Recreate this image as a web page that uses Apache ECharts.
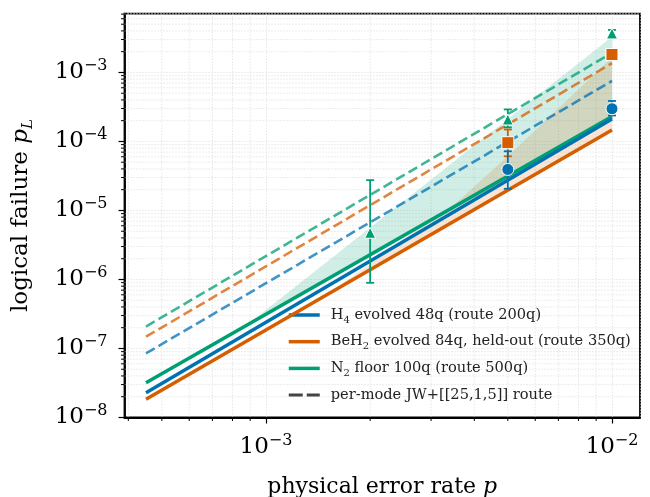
<!DOCTYPE html>
<html>
<head>
<meta charset="utf-8">
<script src="https://cdn.jsdelivr.net/npm/echarts@6/dist/echarts.min.js"></script>
<style>
  html, body { margin: 0; background: #fff; }
  #chart { width: 650px; height: 497px; }
</style>
</head>
<body>
<div id="chart"></div>
<script>
// model curves, straight lines in log-log (p -> p_L)
const pModel = [4.5e-4, 1e-2]
const h4Floor = [2.29e-8, 2.12e-4]
const beh2Floor = [1.84e-8, 1.47e-4]
const n2Floor = [3.19e-8, 2.29e-4]
const h4Route = [8.5e-8, 7.54e-4]
const beh2Route = [1.48e-7, 1.36e-3]
const n2Route = [2.08e-7, 1.92e-3]

// sampled points with error bars
const h4P = [5e-3, 1e-2]
const h4Val = [3.93e-5, 2.98e-4]
const h4Lo = [2.06e-5, 2.38e-4]
const h4Hi = [7.2e-5, 3.86e-4]
const beh2P = [5e-3, 1e-2]
const beh2Val = [9.6e-5, 1.82e-3]
const beh2Lo = [6.1e-5, 1.68e-3]
const beh2Hi = [1.49e-4, 1.98e-3]
const n2P = [2e-3, 5e-3, 1e-2]
const n2Val = [4.75e-6, 2.08e-4, 3.67e-3]
const n2Lo = [8.95e-7, 1.6e-4, 3.27e-3]
const n2Hi = [2.75e-5, 2.91e-4, 4.13e-3]

// shaded bands
const n2BandP = [8.6e-4, 1e-2]
const n2BandLo = [2.0e-7, 2.29e-4]
const n2BandHi = [2.0e-7, 3.3e-3]
const beh2BandP = [1.5e-3, 2.5e-3, 3.5e-3, 5e-3, 1e-2]
const beh2BandLo = [6.0e-7, 2.62e-6, 6.95e-6, 1.96e-5, 1.47e-4]
const beh2BandHi = [6.0e-7, 3.8e-6, 1.22e-5, 6.1e-5, 1.65e-3]

const xMin = 3.9e-4, xMax = 1.205e-2
const yMin = 1e-8, yMax = 7.1e-3

const BLUE = '#0072B2', ORANGE = '#D55E00', GREEN = '#009E73'
const FONT = 'DejaVu Serif'

// minor tick positions (2..9 x 10^n)
const xMinor = [], yMinor = []
for (let e = -4; e <= -2; e++) for (let m = 2; m <= 9; m++) {
  const v = m * Math.pow(10, e)
  if (v > xMin && v < xMax) xMinor.push(v)
}
for (let e = -8; e <= -3; e++) for (let m = 2; m <= 9; m++) {
  const v = m * Math.pow(10, e)
  if (v > yMin && v < yMax) yMinor.push(v)
}

const pairs = (xs, ys) => xs.map((x, i) => [x, ys[i]])

const powLabel = v => {
  const e = Math.round(Math.log10(v))
  return '{b|10}{s|\u2212' + (-e) + '}'
}
const tickRich = {
  b: { fontFamily: FONT, fontSize: 23, color: '#000', lineHeight: 30 },
  s: { fontFamily: FONT, fontSize: 16, color: '#000', lineHeight: 14, verticalAlign: 'top' }
}

const gridLine = { stroke: '#d2d2d2', lineWidth: 0.8, lineDash: [1, 2] }

const minorSeries = {
  type: 'custom', silent: true, clip: false, z: 1,
  data: [[1e-3, 1e-5]],
  renderItem: (params, api) => {
    const cs = params.coordSys
    const kids = []
    xMinor.forEach(v => {
      const x = api.coord([v, 1e-5])[0]
      kids.push({ type: 'line', shape: { x1: x, y1: cs.y, x2: x, y2: cs.y + cs.height }, style: gridLine })
      kids.push({ type: 'line', shape: { x1: x, y1: cs.y + cs.height, x2: x, y2: cs.y + cs.height + 3.5 }, style: { stroke: '#000', lineWidth: 1 } })
    })
    yMinor.forEach(v => {
      const y = api.coord([1e-3, v])[1]
      kids.push({ type: 'line', shape: { x1: cs.x, y1: y, x2: cs.x + cs.width, y2: y }, style: gridLine })
      kids.push({ type: 'line', shape: { x1: cs.x - 3.5, y1: y, x2: cs.x, y2: y }, style: { stroke: '#000', lineWidth: 1 } })
    })
    return { type: 'group', children: kids }
  }
}

const bandSeries = (ps, lo, hi, color) => ({
  type: 'custom', silent: true, clip: true, z: 2,
  data: [[1e-3, 1e-5]],
  renderItem: (params, api) => {
    const pts = ps.map((p, i) => api.coord([p, lo[i]]))
    for (let i = ps.length - 1; i >= 0; i--) pts.push(api.coord([ps[i], hi[i]]))
    return { type: 'polygon', shape: { points: pts }, style: { fill: color } }
  }
})

const errSeries = (ps, lo, hi, color) => ({
  type: 'custom', silent: true, z: 5,
  data: ps.map((p, i) => [p, lo[i], hi[i]]),
  encode: { x: 0, y: [1, 2] },
  renderItem: (params, api) => {
    const a = api.coord([api.value(0), api.value(1)])
    const b = api.coord([api.value(0), api.value(2)])
    const st = { stroke: color, lineWidth: 1.8 }
    return {
      type: 'group', children: [
        { type: 'line', shape: { x1: a[0], y1: a[1], x2: b[0], y2: b[1] }, style: st },
        { type: 'line', shape: { x1: a[0] - 4, y1: a[1], x2: a[0] + 4, y2: a[1] }, style: st },
        { type: 'line', shape: { x1: b[0] - 4, y1: b[1], x2: b[0] + 4, y2: b[1] }, style: st }
      ]
    }
  }
})

const lineSeries = (name, ys, color, dashed) => ({
  name, type: 'line', z: dashed ? 3 : 4, symbol: 'none', silent: true,
  data: pairs(pModel, ys),
  lineStyle: dashed
    ? { color, width: 2.6, type: [10, 4.5], opacity: 0.75 }
    : { color, width: 3.5 },
  itemStyle: { color }
})

const markSeries = (ps, vals, color, symbol, size) => ({
  type: 'scatter', z: 6, symbol, symbolSize: size,
  data: pairs(ps, vals),
  itemStyle: { color, borderColor: '#fff', borderWidth: 1, opacity: 1 }
})

const legendNames = {
  H4: '{n|H}{sub|4}{n| evolved 48q (route 200q)}',
  BeH2: '{n|BeH}{sub|2}{n| evolved 84q, held-out (route 350q)}',
  N2: '{n|N}{sub|2}{n| floor 100q (route 500q)}',
  JW: '{n|per-mode JW+[[25,1,5]] route}'
}

const chart = echarts.init(document.getElementById('chart'), null, { renderer: 'canvas' })

chart.setOption({
  animation: false,
  backgroundColor: '#fff',
  grid: {
    left: 124.5, right: 10, top: 13.7, bottom: 79.5, outerBoundsMode: 'none', containLabel: false,
    show: true, borderColor: '#000', borderWidth: 1.8, backgroundColor: 'transparent'
  },
  xAxis: {
    type: 'log', logBase: 10, min: xMin, max: xMax,
    name: '{n|physical error rate }{i|p}', nameLocation: 'middle', nameGap: 59,
    nameTextStyle: { rich: {
      n: { fontFamily: FONT, fontSize: 22, color: '#000' },
      i: { fontFamily: FONT, fontSize: 22, color: '#000', fontStyle: 'italic' }
    } },
    axisLine: { lineStyle: { color: '#000', width: 1.8 } },
    axisTick: { length: 6, lineStyle: { color: '#000', width: 1.2 } },
    axisLabel: { formatter: powLabel, rich: tickRich, margin: 15, showMinLabel: false, showMaxLabel: false },
    splitLine: { show: true, lineStyle: { color: '#d2d2d2', width: 0.8, type: [1, 2] } }
  },
  yAxis: {
    type: 'log', logBase: 10, min: yMin, max: yMax,
    name: '{n|logical failure }{i|p}{sub|L}', nameLocation: 'middle', nameGap: 89,
    nameTextStyle: { rich: {
      n: { fontFamily: FONT, fontSize: 23, color: '#000', lineHeight: 28 },
      i: { fontFamily: FONT, fontSize: 23, color: '#000', fontStyle: 'italic', lineHeight: 28 },
      sub: { fontFamily: FONT, fontSize: 15, color: '#000', fontStyle: 'italic', lineHeight: 14, verticalAlign: 'bottom' }
    } },
    axisLine: { lineStyle: { color: '#000', width: 1.8 } },
    axisTick: { length: 6, lineStyle: { color: '#000', width: 1.2 } },
    axisLabel: { formatter: powLabel, rich: tickRich, margin: 17, showMaxLabel: false },
    splitLine: { show: true, lineStyle: { color: '#d2d2d2', width: 0.8, type: [1, 2] } }
  },
  legend: {
    orient: 'vertical', left: 282, top: 302, itemWidth: 31, itemHeight: 20, itemGap: 8.7,
    data: [
      { name: 'H4', lineStyle: { width: 3.5 } },
      { name: 'BeH2', lineStyle: { width: 3.5 } },
      { name: 'N2', lineStyle: { width: 3.5 } },
      { name: 'JW', lineStyle: { width: 3, type: [14, 4] } }
    ],
    formatter: name => legendNames[name],
    itemStyle: { opacity: 0 },
    textStyle: {
      padding: [0, 0, 0, 6],
      rich: {
        n: { fontFamily: FONT, fontSize: 14.6, color: '#222', lineHeight: 20 },
        sub: { fontFamily: FONT, fontSize: 10, color: '#222', lineHeight: 10, verticalAlign: 'bottom' }
      }
    },
    selectedMode: false
  },
  series: [
    minorSeries,
    bandSeries(n2BandP, n2BandLo, n2BandHi, 'rgba(0,158,115,0.18)'),
    bandSeries(beh2BandP, beh2BandLo, beh2BandHi, 'rgba(213,94,0,0.16)'),
    lineSeries('n2r', n2Route, GREEN, true),
    lineSeries('beh2r', beh2Route, ORANGE, true),
    lineSeries('h4r', h4Route, BLUE, true),
    lineSeries('N2', n2Floor, GREEN, false),
    lineSeries('H4', h4Floor, BLUE, false),
    lineSeries('BeH2', beh2Floor, ORANGE, false),
    { name: 'JW', type: 'line', data: [], symbol: 'none', lineStyle: { color: '#444', width: 2.6, type: [10, 4.5] }, itemStyle: { color: '#444' } },
    errSeries(n2P, n2Lo, n2Hi, GREEN),
    errSeries(beh2P, beh2Lo, beh2Hi, ORANGE),
    errSeries(h4P, h4Lo, h4Hi, BLUE),
    markSeries(n2P, n2Val, GREEN, 'triangle', 11),
    markSeries(beh2P, beh2Val, ORANGE, 'rect', 12),
    markSeries(h4P, h4Val, BLUE, 'circle', 12)
  ]
})
</script>
</body>
</html>
